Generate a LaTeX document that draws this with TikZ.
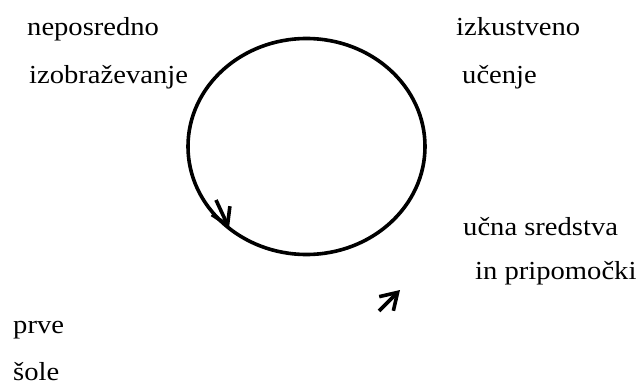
\documentclass[tikz,border=0pt]{standalone}
\usepackage{fontspec}
\setmainfont{Liberation Serif}[FakeStretch=1.1]
\usetikzlibrary{arrows.meta}
\usetikzlibrary{shapes.geometric}

\tikzset{
    word/.style={anchor=base west, inner sep=0pt, font=\fontsize{26}{30}\selectfont},
    loop line/.style={ellipse, draw, line width=3.6pt, inner sep=0pt,
        minimum width=237pt, minimum height=216pt},
    flow/.style={line width=3.6pt, -{Straight Barb[length=16pt,width=20pt]}},
}

\begin{document}
\begin{tikzpicture}[x=1pt,y=-1pt]
    \useasboundingbox (0,0) rectangle (640,385);
    % the cycle
    \node[loop line] (cycle) at (306.5,146.5) {};
    % texts round the cycle
    \node[word] (nepo) at (27,36) {neposredno};
    \node[word] (izob) at (29,84) {izobraževanje};
    \node[word] (izku) at (456,36) {izkustveno};
    \node[word] (ucen) at (462,84) {učenje};
    \node[word] (sred) at (463,235) {učna sredstva};
    \node[word] (prip) at (475,279) {in pripomočki};
    \node[word] (prve) at (13,333) {prve};
    \node[word] (sole) at (13,380) {šole};
    % arrows
    \coordinate (a1) at (216,200);
    \coordinate (b1) at (229,228);
    \coordinate (a2) at (379,311);
    \coordinate (b2) at (400,290);
    \draw[flow] (a1) -- (b1);
    \draw[flow] (a2) -- (b2);
\end{tikzpicture}
\end{document}
